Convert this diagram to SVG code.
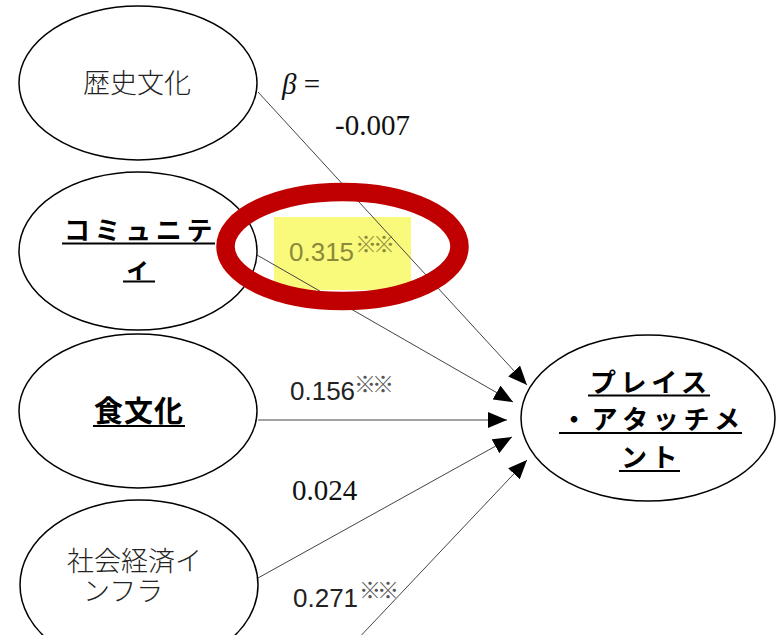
<svg xmlns="http://www.w3.org/2000/svg" width="776" height="635" viewBox="0 0 776 635">
<defs>
<marker id="arr" markerUnits="userSpaceOnUse" markerWidth="20" markerHeight="16" refX="19" refY="8" orient="auto">
<path d="M0,0 L19,8 L0,16 Z" fill="#000"/>
</marker>
<style>
.node{fill:#fff;stroke:#000;stroke-width:1.5}
.jp{font-family:"Noto Sans CJK JP",sans-serif;font-size:27px;font-weight:300;fill:#222}
.jpb{font-family:"Noto Sans CJK JP",sans-serif;font-size:26px;font-weight:bold;fill:#000;letter-spacing:4.6px}
.ul{stroke:#000;stroke-width:2}
.edge{stroke:#444;stroke-width:1;fill:none;marker-end:url(#arr)}
.serif{font-family:"Liberation Serif","DejaVu Serif",serif;font-size:29px;fill:#111}
.sans{font-family:"Liberation Sans",Arial,sans-serif;font-size:26px;fill:#222}
.mark{font-family:"Noto Sans CJK JP",sans-serif;font-size:22px;fill:#555;letter-spacing:-4px}
</style>
</defs>
<rect width="776" height="635" fill="#fff"/>

<g id="n1">
<ellipse class="node" cx="138" cy="83" rx="119" ry="77"/>
<text class="jp" x="83" y="93">歴史文化</text>
</g>
<g id="n2">
<ellipse class="node" cx="138" cy="251" rx="119" ry="79"/>
<text class="jpb" x="64" y="240">コミュニテ</text>
<line class="ul" x1="62" y1="243.5" x2="215" y2="243.5"/>
<text class="jpb" x="125" y="278">ィ</text>
<line class="ul" x1="123" y1="281.5" x2="155" y2="281.5"/>
</g>
<g id="n3">
<ellipse class="node" cx="138" cy="411" rx="119" ry="77"/>
<text class="jpb" x="94" y="422" style="font-size:29px;letter-spacing:1px">食文化</text>
<line class="ul" x1="93" y1="426" x2="185" y2="426"/>
</g>
<g id="n4">
<ellipse class="node" cx="139" cy="585" rx="119" ry="85"/>
<text class="jp" x="67" y="571">社会経済イ</text>
<text class="jp" x="83" y="601">ンフラ</text>
</g>
<g id="n5">
<ellipse class="node" cx="648" cy="418" rx="127" ry="83"/>
<text class="jpb" x="590" y="392">プレイス</text>
<line class="ul" x1="588" y1="395.5" x2="710" y2="395.5"/>
<text class="jpb" x="561" y="429">・アタッチメ</text>
<line class="ul" x1="559" y1="433" x2="742" y2="433"/>
<text class="jpb" x="621" y="467">ント</text>
<line class="ul" x1="619" y1="471" x2="680" y2="471"/>
</g>

<rect x="274" y="217" width="137" height="73" fill="#f9f97c"/>

<g id="edges">
<line class="edge" x1="258" y1="92" x2="527" y2="385"/>
<line class="edge" x1="257" y1="255" x2="513" y2="402"/>
<line class="edge" x1="258" y1="420" x2="507" y2="420"/>
<line class="edge" x1="258" y1="578" x2="512" y2="437"/>
<line class="edge" x1="354" y1="643" x2="527" y2="460"/>
</g>

<g id="labels">
<text class="serif" x="282" y="94"><tspan font-style="italic">β</tspan> =</text>
<text class="serif" x="335" y="135">-0.007</text>
<text class="sans" x="289" y="261" style="fill:#8a8a3a">0.315</text>
<text class="mark" x="355" y="252" style="fill:#8a8a3a">※※</text>
<text class="sans" x="290" y="400">0.156</text>
<text class="mark" x="354" y="392">※※</text>
<text class="serif" x="292" y="500">0.024</text>
<text class="sans" x="293" y="607">0.271</text>
<text class="mark" x="359" y="598">※※</text>
</g>

<ellipse cx="342.5" cy="246.5" rx="117" ry="54.5" fill="none" stroke="#c00000" stroke-width="18.5"/>
</svg>
